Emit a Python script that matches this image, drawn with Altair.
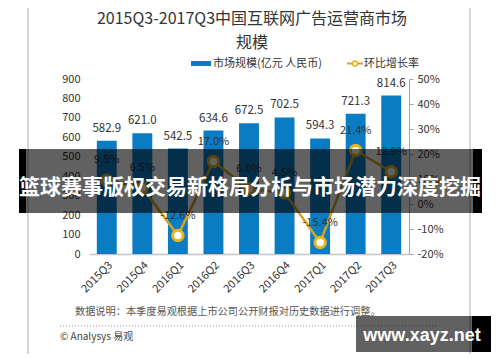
import altair as alt
import pandas as pd

quarters = ["2015Q3", "2015Q4", "2016Q1", "2016Q2", "2016Q3", "2016Q4", "2017Q1", "2017Q2", "2017Q3"]
market = [582.9, 621.0, 542.5, 634.6, 672.5, 702.5, 594.3, 721.3, 814.6]
growth = [9.5, 6.5, -12.6, 17.0, 6.0, 4.5, -15.4, 21.4, 12.9]
left_ticks = [0, 100, 200, 300, 400, 500, 600, 700, 800, 900]
right_ticks = [-20, -10, 0, 10, 20, 30, 40, 50]

title_lines = ["2015Q3-2017Q3中国互联网广告运营商市场", "规模"]
legend_bar = "市场规模(亿元 人民币)"
legend_line = "环比增长率"
note = "数据说明：本季度易观根据上市公司公开财报对历史数据进行调整。"
source = "© Analysys 易观"
banner = "篮球赛事版权交易新格局分析与市场潜力深度挖掘"
watermark = "www.xayz.net"

df = pd.DataFrame({
    "quarter": quarters,
    "market": market,
    "growth": growth,
    "bar_label": [f"{v:.1f}" for v in market],
    "pct_label": [f"{g:.1f}%" for g in growth],
})

FONT = "Noto Sans CJK SC"
BLUE = "#0A7CC4"
GOLD = "#D6A225"
GOLD2 = "#E8B41C"
TXT = "#333333"

xenc = alt.X("quarter:N", sort=quarters,
             scale=alt.Scale(paddingInner=0.44, paddingOuter=0.22),
             axis=alt.Axis(title=None, labelAngle=-45, labelFontSize=11, labelColor=TXT,
                           labelFont=FONT, ticks=False, domain=True, domainColor="#c4c4c4",
                           domainWidth=1.5, labelPadding=5, grid=False))

yleft = alt.Y("market:Q", scale=alt.Scale(domain=[0, 900], nice=False),
              axis=alt.Axis(title=None, values=left_ticks, domain=False, ticks=False, grid=False,
                            labelFontSize=11, labelColor=TXT, labelFont=FONT, labelPadding=9))
yright = alt.Y("growth:Q", scale=alt.Scale(domain=[-20, 50], nice=False),
               axis=alt.Axis(title=None, orient="right", values=right_ticks,
                             labelExpr="datum.value + '%'", domain=True, domainColor="#a6a6a6",
                             ticks=True, tickColor="#a6a6a6", tickSize=4, grid=False,
                             labelFontSize=11, labelColor=TXT, labelFont=FONT, labelPadding=4))

base = alt.Chart(df)
bars = base.mark_bar(color=BLUE).encode(x=xenc, y=yleft)
bar_text = base.mark_text(fontSize=11.5, font=FONT, color=TXT, baseline="middle", dy=-12).encode(
    x=xenc, y=yleft, text="bar_label:N")
left = alt.layer(bars, bar_text)

line = base.mark_line(color=GOLD, strokeWidth=2.5).encode(x=xenc, y=yright)
pts = base.mark_point(filled=True, fill="white", stroke=GOLD2, strokeWidth=3, size=110, opacity=1).encode(
    x=xenc, y=yright)
pct_text = base.mark_text(fontSize=11, font=FONT, color=TXT, baseline="middle", dy=-20).encode(
    x=xenc, y=yright, text="pct_label:N")
right = alt.layer(line, pts, pct_text)

one = alt.Data(values=[{}])


def txt(t, x, y, size, color=TXT, align="center", weight="normal", font=FONT):
    return alt.Chart(one).mark_text(text=t, fontSize=size, color=color, align=align,
                                    baseline="middle", fontWeight=weight, font=font).encode(
        x=alt.value(x), y=alt.value(y))


def box(x, x2, y, y2, **kw):
    return alt.Chart(one).mark_rect(**kw).encode(
        x=alt.value(x), x2=alt.value(x2), y=alt.value(y), y2=alt.value(y2))


frame = box(-61, 381, -77, 278, fill=None, stroke="#c8c8c8", strokeWidth=1.5)
t1 = txt(title_lines[0], 163, -60, 16)
t2 = txt(title_lines[1], 163, -36, 16)
leg_rect = box(102, 122, -18, -13, fill=BLUE)
leg_t1 = txt(legend_bar, 124, -15.5, 11, align="left")
leg_line = alt.Chart(one).mark_rule(color=GOLD, strokeWidth=2).encode(
    x=alt.value(258), x2=alt.value(274), y=alt.value(-15.5))
leg_pt = alt.Chart(one).mark_point(filled=True, fill="white", stroke=GOLD2, strokeWidth=1.5,
                                   size=25, opacity=1).encode(x=alt.value(266), y=alt.value(-15.5))
leg_t2 = txt(legend_line, 275, -15.5, 11, align="left")

note_t = txt(note, -14, 233, 10.2, color="#555555", align="left")
dots = alt.Chart(one).mark_rule(color="#999999", strokeDash=[1, 2], strokeWidth=1).encode(
    x=alt.value(-29), x2=alt.value(348), y=alt.value(247))
src_t = txt(source, -29, 258, 10, color="#444444", align="left")

ban = box(-70, 393, 70, 134, fill="black", opacity=0.62)
ban_l = box(-70, -63, 70, 134, fill="black", opacity=1)
ban_r = box(384, 393, 70, 134, fill="black", opacity=1)
ban_t = txt(banner, 161, 109, 21, color="white", weight="bold")

wm = box(267, 402, 237, 273, fill="black", opacity=0.62)
wm_r = box(383, 402, 237, 273, fill="black", opacity=1)
wm_t = txt(watermark, 333, 257, 18, color="white", weight="bold", font="Liberation Sans")

chart = alt.layer(
    left, right,
    frame, t1, t2, leg_rect, leg_t1, leg_line, leg_pt, leg_t2,
    note_t, dots, src_t,
    ban, ban_l, ban_r, ban_t,
    wm, wm_r, wm_t,
).resolve_scale(y="independent").properties(
    width=320, height=175,
    padding={"left": 81, "top": 71, "right": 83, "bottom": 100},
    autosize=alt.AutoSizeParams(type="none"),
    background="white",
).configure_view(stroke=None)

chart.save("out.html", embed_options={"renderer": "svg", "actions": False})
